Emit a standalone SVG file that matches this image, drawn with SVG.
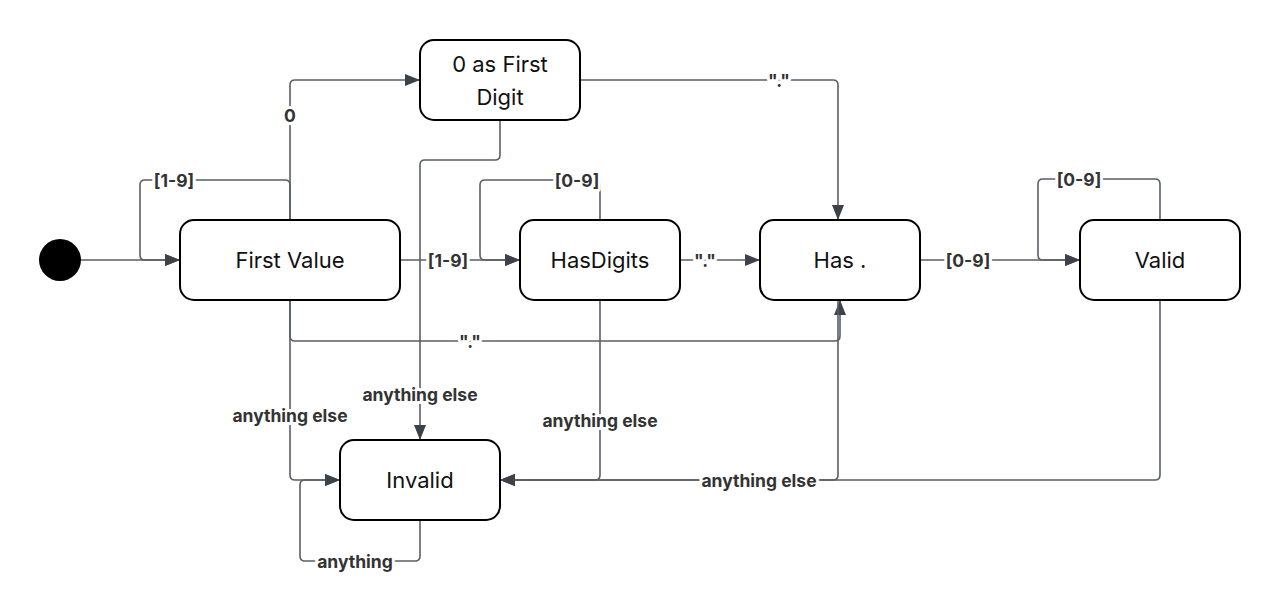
<svg xmlns="http://www.w3.org/2000/svg" width="1280" height="612" viewBox="0 0 1280 612">
<defs>
<marker id="arr" markerUnits="userSpaceOnUse" markerWidth="16" markerHeight="12" refX="15" refY="6" orient="auto">
<path d="M0,0 L15,6 L0,12 Z" fill="#3d424a"/>
</marker>
<style>
.node rect{fill:#fff;stroke:#000;stroke-width:2}
.node text{font-family:Inter,"Noto Sans","Liberation Sans",sans-serif;font-size:22px;fill:#111;text-anchor:middle;dominant-baseline:central}
.edge{fill:none;stroke:#5a5f66;stroke-width:1.6}
.arrow{marker-end:url(#arr)}
.lbl{font-family:Inter,"Noto Sans","Liberation Sans",sans-serif;font-size:17.5px;font-weight:700;fill:#333;text-anchor:middle;dominant-baseline:central;paint-order:stroke;stroke:#fff;stroke-width:6px;stroke-linejoin:round}
</style>
</defs>
<rect width="1280" height="612" fill="#fff"/>
<g id="connectors">
<path class="edge arrow" d="M81,260 H180"/>
<path class="edge arrow" d="M290,220 V185 Q290,180 285,180 H145 Q140,180 140,185 V255 Q140,260 145,260 H180"/>
<path class="edge arrow" d="M290,220 V85 Q290,80 295,80 H420"/>
<path class="edge arrow" d="M580,80 H833 Q838,80 838,85 V220"/>
<path class="edge arrow" d="M500,120 V155 Q500,160 495,160 H425 Q420,160 420,165 V440"/>
<path class="edge arrow" d="M400,260 H520"/>
<path class="edge arrow" d="M600,220 V185 Q600,180 595,180 H485 Q480,180 480,185 V255 Q480,260 485,260 H520"/>
<path class="edge arrow" d="M680,260 H760"/>
<path class="edge arrow" d="M290,300 V336 Q290,341 295,341 H835 Q840,341 840,336 V300"/>
<path class="edge arrow" d="M290,300 V475 Q290,480 295,480 H340"/>
<path class="edge arrow" d="M600,300 V475 Q600,480 595,480 H500"/>
<path class="edge arrow" d="M920,260 H1080"/>
<path class="edge arrow" d="M1160,220 V184 Q1160,179 1155,179 H1043 Q1038,179 1038,184 V255 Q1038,260 1043,260 H1080"/>
<path class="edge arrow" d="M838,300 V475 Q838,480 833,480 H500"/>
<path class="edge arrow" d="M1160,300 V475 Q1160,480 1155,480 H500"/>
<path class="edge arrow" d="M420,520 V556 Q420,561 415,561 H305 Q300,561 300,556 V485 Q300,480 305,480 H340"/>
<text class="lbl" x="174" y="180">[1-9]</text>
<text class="lbl" x="290" y="115">0</text>
<text class="lbl" x="779" y="80">"."</text>
<text class="lbl" x="420" y="394">anything else</text>
<text class="lbl" x="448" y="260">[1-9]</text>
<text class="lbl" x="577" y="180">[0-9]</text>
<text class="lbl" x="705" y="260">"."</text>
<text class="lbl" x="470" y="341">"."</text>
<text class="lbl" x="290" y="415">anything else</text>
<text class="lbl" x="600" y="420">anything else</text>
<text class="lbl" x="968" y="260">[0-9]</text>
<text class="lbl" x="1079" y="179">[0-9]</text>
<text class="lbl" x="759" y="480">anything else</text>
<text class="lbl" x="355" y="561">anything</text>
</g>
<g id="start"><circle cx="60" cy="260" r="21" fill="#000"/></g>
<g id="first-value" class="node"><rect x="180" y="220" width="220" height="80" rx="14"/><text x="290" y="260">First Value</text></g>
<g id="zero-first" class="node"><rect x="420" y="40" width="160" height="80" rx="14"/><text x="500" y="64">0 as First</text><text x="500" y="97">Digit</text></g>
<g id="has-digits" class="node"><rect x="520" y="220" width="160" height="80" rx="14"/><text x="600" y="260">HasDigits</text></g>
<g id="has-dot" class="node"><rect x="760" y="220" width="160" height="80" rx="14"/><text x="840" y="260">Has .</text></g>
<g id="valid" class="node"><rect x="1080" y="220" width="160" height="80" rx="14"/><text x="1160" y="260">Valid</text></g>
<g id="invalid" class="node"><rect x="340" y="440" width="160" height="80" rx="14"/><text x="420" y="480">Invalid</text></g>
</svg>
